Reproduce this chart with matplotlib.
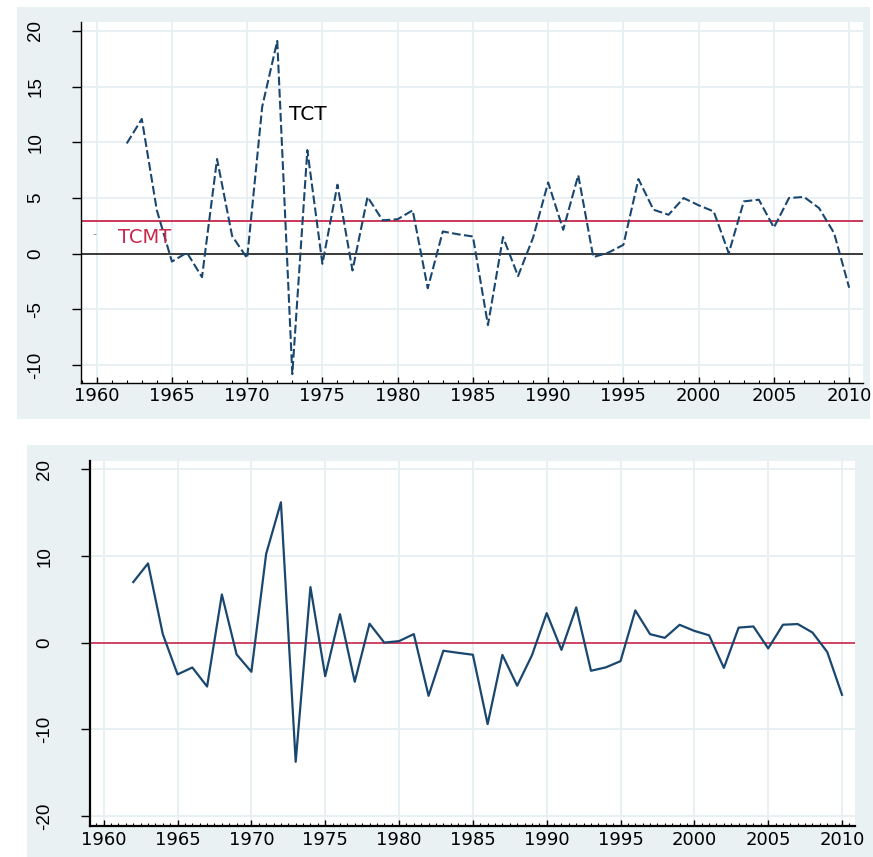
import matplotlib
matplotlib.use("Agg")
import matplotlib.pyplot as plt
from matplotlib.patches import Rectangle
from matplotlib.ticker import MultipleLocator

plt.rcParams["axes.unicode_minus"] = False

years = list(range(1962, 2011))
tct = [9.9, 12.1, 3.9, -0.7, 0.1, -2.1, 8.5, 1.6, -0.4, 13.2,
       19.1, -10.8, 9.3, -0.9, 6.2, -1.5, 5.1, 3.0, 3.1, 3.9,
       -3.1, 2.0, 1.75, 1.55, -6.4, 1.5, -2.0, 1.45, 6.4, 2.15,
       7.05, -0.3, 0.1, 0.8, 6.7, 3.95, 3.5, 5.0, 4.35, 3.8,
       0.05, 4.7, 4.85, 2.35, 5.0, 5.1, 4.1, 1.85, -3.05]
tcmt = 2.93
dev = [7.0, 9.15, 1.0, -3.65, -2.85, -5.05, 5.57, -1.35, -3.35, 10.25,
       16.2, -13.73, 6.42, -3.85, 3.3, -4.5, 2.2, 0.02, 0.19, 1.0,
       -6.12, -0.92, -1.16, -1.38, -9.38, -1.4, -4.95, -1.45, 3.42, -0.82,
       4.08, -3.23, -2.84, -2.12, 3.73, 0.99, 0.57, 2.07, 1.37, 0.86,
       -2.9, 1.75, 1.88, -0.65, 2.08, 2.16, 1.18, -1.06, -6.0]
xticks = [1960, 1965, 1970, 1975, 1980, 1985, 1990, 1995, 2000, 2005, 2010]
yticks_top = [-10, -5, 0, 5, 10, 15, 20]
yticks_bot = [-20, -10, 0, 10, 20]

W, H = 873, 857
NAVY = "#1a476f"
RED = "#c8284c"
BG = "#e9f1f3"
GRID = "#e9f0f3"

fig = plt.figure(figsize=(W / 100, H / 100), dpi=100)
fig.patch.set_facecolor("white")

def frect(x0, y0, x1, y1):
    return [x0 / W, 1 - y1 / H, (x1 - x0) / W, (y1 - y0) / H]

# gray regions
for (x0, y0, x1, y1) in [(17, 7, 870, 419), (27, 445, 873, 857)]:
    r = frect(x0, y0, x1, y1)
    fig.add_artist(Rectangle((r[0], r[1]), r[2], r[3], transform=fig.transFigure,
                             facecolor=BG, edgecolor="none", zorder=-10))

ax1 = fig.add_axes(frect(81, 22, 862.7, 383))
ax2 = fig.add_axes(frect(90, 460.7, 855, 825.7))
ax1.set_zorder(1)
ax2.set_zorder(1)

YFONT = ["Liberation Sans Narrow", "Liberation Sans", "DejaVu Sans"]

def style(ax, yt, spine_lw, minor, xpad):
    ax.set_facecolor("white")
    for s in ["top", "right"]:
        ax.spines[s].set_visible(False)
    for s in ["left", "bottom"]:
        ax.spines[s].set_linewidth(spine_lw)
        ax.spines[s].set_color("black")
    ax.set_xticks(xticks)
    ax.xaxis.set_minor_locator(MultipleLocator(minor))
    ax.set_yticks(yt)
    ax.grid(True, which="major", color=GRID, linewidth=1.4, zorder=0)
    ax.set_axisbelow(True)
    ax.tick_params(axis="x", which="major", direction="in", length=4, width=1.0, pad=xpad,
                   labelsize=13)
    ax.tick_params(axis="x", which="minor", direction="in", length=2.3, width=0.8)
    ax.tick_params(axis="y", which="major", direction="out", length=6.5, width=1.0, pad=20)
    for lab in ax.get_xticklabels():
        lab.set_family("DejaVu Sans")
    for lab in ax.get_yticklabels():
        lab.set_family(YFONT)
        lab.set_fontsize(13.5)
        lab.set_rotation(90)
        lab.set_va("center")
        lab.set_ha("right")

# top panel
ax1.set_xlim(1958.96, 2010.9)
ax1.set_ylim(-11.6, 20.8)
style(ax1, yticks_top, 1.0, 1, 3.0)
ax1.axhline(0, color="#3a3a3a", linewidth=1.4, zorder=2)
ax1.axhline(tcmt, color=RED, linewidth=1.3, zorder=2)
ax1.plot(years, tct, color=NAVY, linewidth=1.5, linestyle=(0, (4.2, 1.6)), zorder=3)
ax1.text(1972.8, 12.5, "TCT", fontsize=14.5, color="black", ha="left", va="center",
         family="DejaVu Sans")
ax1.text(1961.4, 1.5, "TCMT", fontsize=14, color=RED, ha="left", va="center",
         family="DejaVu Sans")
ax1.text(1959.85, 1.75, "-", fontsize=8, color="#888888", ha="center", va="center")

# bottom panel
ax2.set_xlim(1959.07, 2010.88)
ax2.set_ylim(-21.1, 21.0)
style(ax2, yticks_bot, 1.6, 0.5, 4.0)
ax2.axhline(0, color=RED, linewidth=1.2, zorder=2)
ax2.plot(years, dev, color=NAVY, linewidth=1.6, zorder=3)

fig.savefig("out.png", dpi=100, facecolor="white")
